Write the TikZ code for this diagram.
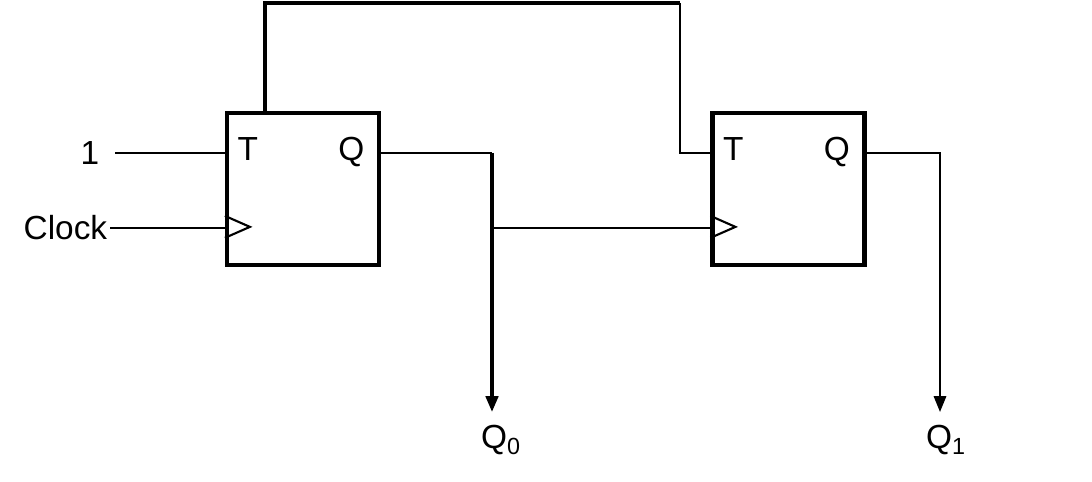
\documentclass[tikz,border=0pt]{standalone}
\usepackage{fontspec}
\setmainfont{Liberation Sans}
\usetikzlibrary{arrows.meta}
\begin{document}
\begin{tikzpicture}[x=0.02cm,y=-0.02cm,line width=1.2pt,
    ff/.style={draw,line width=2.4pt,minimum width=3.04cm,minimum height=3.04cm,inner sep=0pt},
    lbl/.style={font=\fontsize{19}{19}\selectfont,inner sep=1pt},
    outarrow/.style={-{Triangle[width=7pt,length=9pt]}}]
    \useasboundingbox (0,0) rectangle (1092,482);
    % flip-flops
    \node[ff] at (303,189) (ffa) {};
    \node[ff] at (788.5,189) (ffb) {};
    \foreach \f in {ffa,ffb} {
        \node[lbl,anchor=base west] at ([xshift=0.2cm,yshift=-1.0cm]\f.north west) {T};
        \node[lbl,anchor=base east] at ([xshift=-0.28cm,yshift=-1.0cm]\f.north east) {Q};
        \draw ([yshift=-2.1cm]\f.north west) -- ++(0.5cm,-0.22cm) -- ++(-0.5cm,-0.22cm);
    }
    % inputs
    \node[lbl,anchor=east] at (102,153) (one) {1};
    \node[lbl,anchor=east] at (110,228) (clk) {Clock};
    \coordinate (ta) at (ffa.west |- one);
    \coordinate (ca) at (ffa.west |- clk);
    \draw (115,153) -- (ta);
    \draw (clk.east) -- (ca);
    % outputs
    \node[lbl] at (501,440) (q0) {Q\textsubscript{0}};
    \node[lbl] at (946,440) (q1) {Q\textsubscript{1}};
    \coordinate (j0) at (492,153);
    \coordinate (j1) at (940,153);
    \draw (ffa.east |- j0) -- (j0);
    \draw[outarrow,line width=2pt] (j0) -- (492,412);
    \draw (492,228) -- (ffb.west |- 0,228);
    \draw[outarrow] (ffb.east |- j1) -- (j1) -- (940,412);
    % feedback to second T
    \draw[line width=2pt] (265,113) -- (265,3) -- (680,3);
    \draw (680,3) -- (680,153) -- (ffb.west |- 0,153);
\end{tikzpicture}
\end{document}
